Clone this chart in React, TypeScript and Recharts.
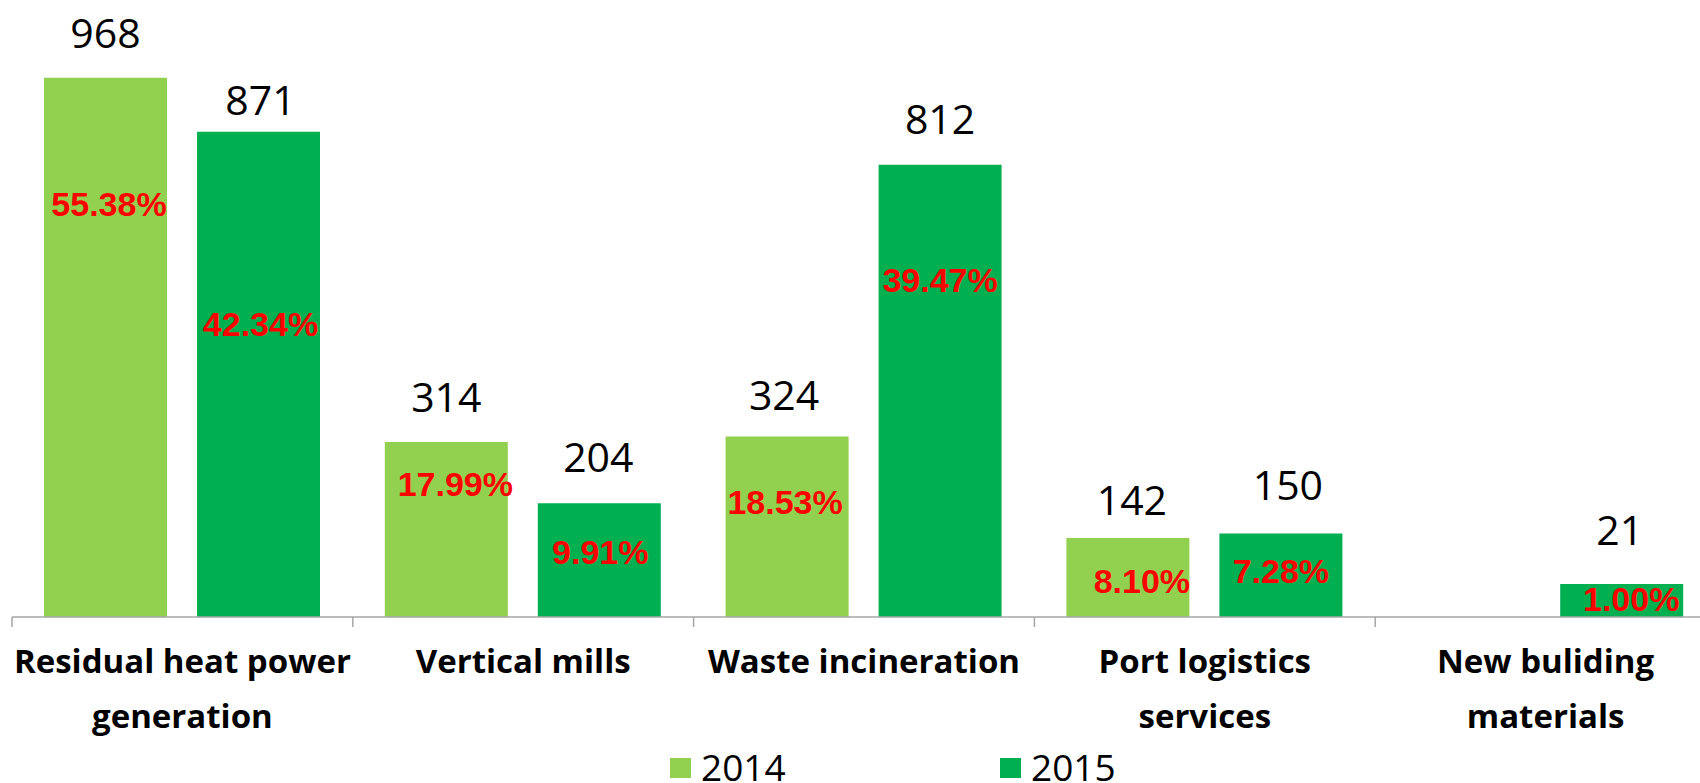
import { BarChart, Bar, XAxis, YAxis, Legend, LabelList } from 'recharts';

// categories and values
const CATEGORIES = [
  'Residual heat power\ngeneration',
  'Vertical mills',
  'Waste incineration',
  'Port logistics\nservices',
  'New buliding\nmaterials',
];
const VALUES_2014 = [968, 314, 324, 142, null];
const VALUES_2015 = [871, 204, 812, 150, 21];
const SHARE_2014 = ['55.38%', '17.99%', '18.53%', '8.10%', null];
const SHARE_2015 = ['42.34%', '9.91%', '39.47%', '7.28%', '1.00%'];

// hand-placed label nudges (layout only): [dx, distance from bar top]
const VALUE_NUDGE_2014 = [[0, 30], [0, 30], [-3, 27], [4, 23], [0, 0]];
const VALUE_NUDGE_2015 = [[2, 17], [-1, 31], [0, 31], [7, 33], [-2, 39]];
const SHARE_NUDGE_2014 = [[3.5, 126.5], [9, 41.5], [-2, 65], [14, 43.5], [0, 0]];
const SHARE_NUDGE_2015 = [[2, 192.5], [1, 49], [0, 115], [0, 38], [9.5, 15]];

const LIGHT = '#92D050';
const DARK = '#00B050';
const AXIS_GREY = '#A6A6A6';

const CHART_W = 1716;
const CHART_H = 783;
const M_LEFT = 12;
const M_TOP = 60;
const X_AXIS_H = 121;
const LEGEND_H = 45;
const CAT_W = (CHART_W - M_LEFT) / CATEGORIES.length;
const LEGEND_X = [670, 1000];

const daten = CATEGORIES.map((name, i) => ({
  name,
  v2014: VALUES_2014[i],
  v2015: VALUES_2015[i],
  s2014: SHARE_2014[i],
  s2015: SHARE_2015[i],
}));

function CategoryTick({ x, y, payload }: any) {
  const lines = String(payload.value).split('\n');
  const left = x - CAT_W / 2;
  return (
    <g>
      <line x1={left} x2={left} y1={y} y2={y + 10} stroke={AXIS_GREY} strokeWidth={1.5} />
      <text x={x} y={y + 56} textAnchor="middle" fontFamily="'Open Sans'" fontWeight={700} fontSize={33} fill="#000">
        {lines.map((l, i) => (
          <tspan key={i} x={x} dy={i === 0 ? 0 : 55}>{l}</tspan>
        ))}
      </text>
    </g>
  );
}

function valueLabel(nudge: number[][]) {
  return (props: any) => {
    const { x, y, width, value, index } = props;
    if (value == null) return null;
    const [dx, gap] = nudge[index] || [0, 30];
    return (
      <text x={x + width / 2 + dx} y={y - gap} textAnchor="middle" fontFamily="'Open Sans'" fontSize={41} fill="#000">
        {value}
      </text>
    );
  };
}

function shareLabel(nudge: number[][]) {
  return (props: any) => {
    const { x, y, width, value, index } = props;
    if (value == null) return null;
    const [dx, cy] = nudge[index] || [0, 40];
    return (
      <text x={x + width / 2 + dx} y={y + cy + 12} textAnchor="middle" fontFamily="'Liberation Sans'" fontWeight={700} fontSize={34} fill="#FF0000">
        {value}
      </text>
    );
  };
}

function LegendContent({ payload }: any) {
  return (
    <svg width={1700} height={LEGEND_H} style={{ display: 'block' }}>
      {(payload || []).map((p: any, i: number) => (
        <g key={i}>
          <rect x={LEGEND_X[i]} y={20} width={21} height={20} fill={p.color} />
          <text x={LEGEND_X[i] + 31} y={43} fontFamily="'Open Sans'" fontSize={37} fill="#000">{p.value}</text>
        </g>
      ))}
    </svg>
  );
}

export default function App() {
  return (
    <div style={{ position: 'absolute', left: 0, top: 0, width: 1700, height: CHART_H, overflow: 'hidden', background: '#fff' }}>
      <BarChart
        width={CHART_W}
        height={CHART_H}
        data={daten}
        margin={{ top: M_TOP, right: 0, bottom: 0, left: M_LEFT }}
        barSize={123}
        barGap={30}
      >
        <XAxis
          dataKey="name"
          interval={0}
          height={X_AXIS_H}
          tickSize={0}
          tickMargin={0}
          tickLine={false}
          axisLine={{ stroke: AXIS_GREY, strokeWidth: 1.5 }}
          tick={<CategoryTick />}
        />
        <YAxis hide domain={[0, 1000]} />
        <Legend
          verticalAlign="bottom"
          height={LEGEND_H}
          wrapperStyle={{ left: 0, bottom: 0, width: 1700, height: LEGEND_H }}
          content={<LegendContent />}
        />
        <Bar dataKey="v2014" name="2014" fill={LIGHT} isAnimationActive={false}>
          <LabelList dataKey="v2014" content={valueLabel(VALUE_NUDGE_2014)} />
          <LabelList dataKey="s2014" content={shareLabel(SHARE_NUDGE_2014)} />
        </Bar>
        <Bar dataKey="v2015" name="2015" fill={DARK} minPointSize={33} isAnimationActive={false}>
          <LabelList dataKey="v2015" content={valueLabel(VALUE_NUDGE_2015)} />
          <LabelList dataKey="s2015" content={shareLabel(SHARE_NUDGE_2015)} />
        </Bar>
      </BarChart>
    </div>
  );
}
